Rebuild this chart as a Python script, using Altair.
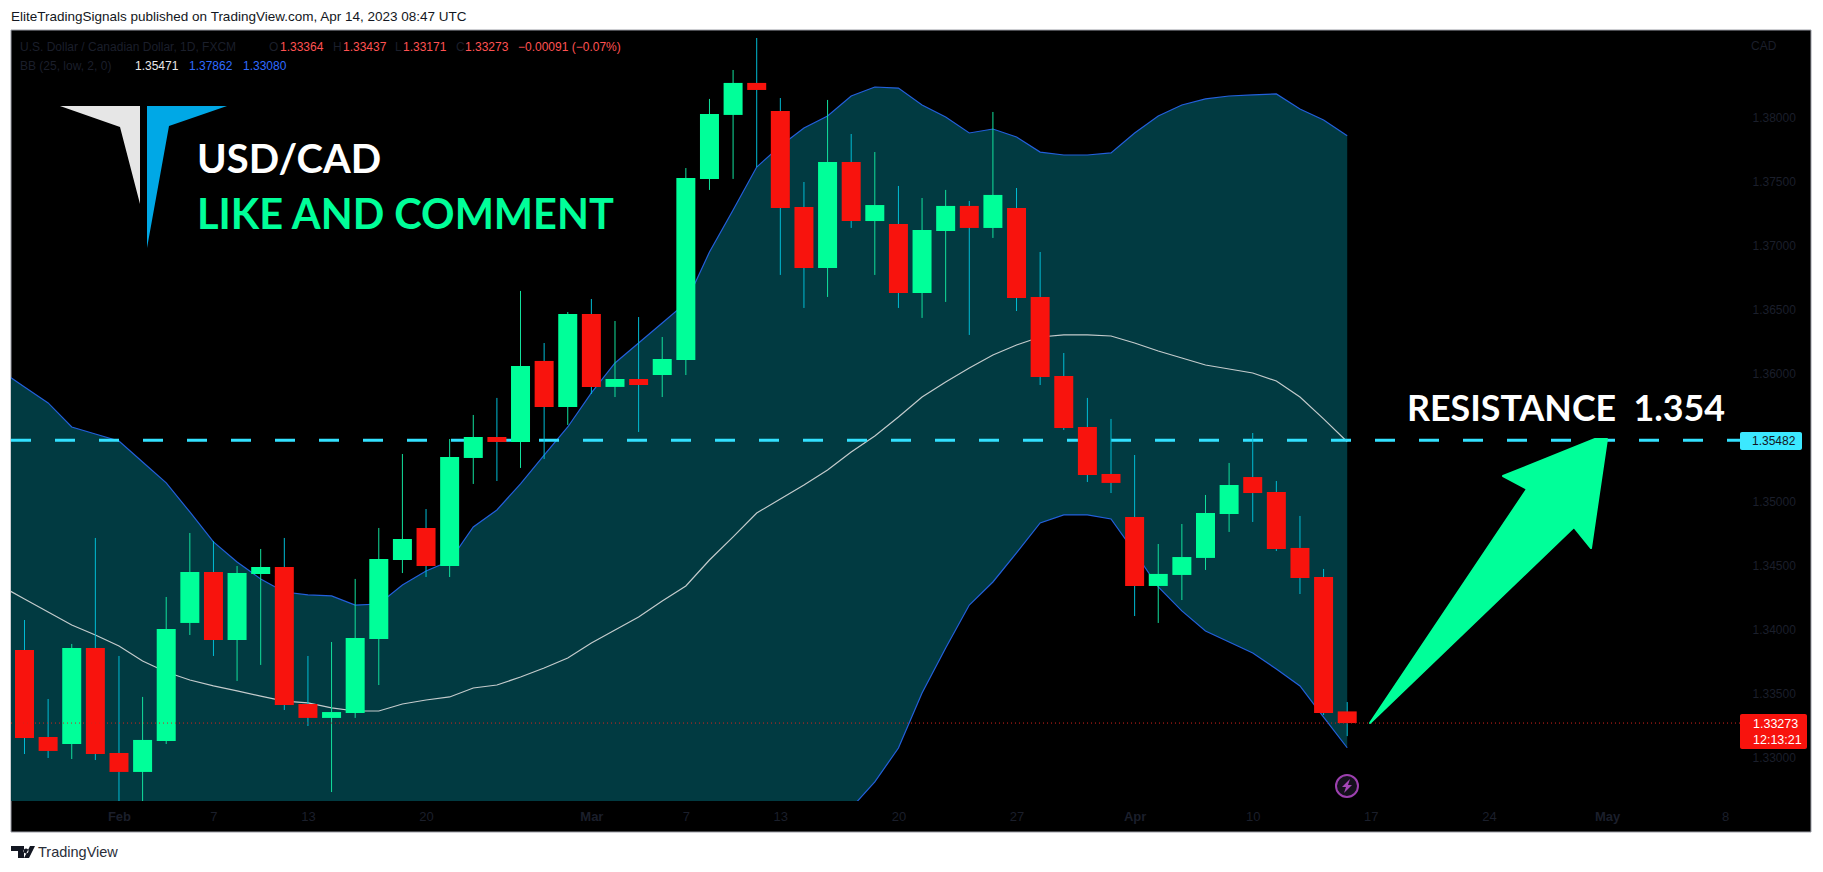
import altair as alt
import pandas as pd

# daily candles
opens = [1.33844, 1.33164, 1.33109, 1.33859, 1.33039, 1.32891, 1.33133, 1.34055, 1.34453, 1.33922,
         1.34438, 1.34492, 1.33422, 1.33313, 1.33352, 1.33930, 1.34547, 1.34797, 1.34500, 1.35344,
         1.35508, 1.35469, 1.36102, 1.35742, 1.36469, 1.35899, 1.35961, 1.35992, 1.36109, 1.37524,
         1.38024, 1.38274, 1.38055, 1.37305, 1.36828, 1.37656, 1.37195, 1.37172, 1.36633, 1.37117,
         1.37313, 1.37141, 1.37297, 1.36602, 1.35984, 1.35586, 1.35219, 1.34883, 1.34344, 1.34430,
         1.34563, 1.34906, 1.35195, 1.35078, 1.34641, 1.34414, 1.33364]
highs = [1.34078, 1.33461, 1.33891, 1.34719, 1.33797, 1.33477, 1.34258, 1.34758, 1.34695, 1.34500,
         1.34633, 1.34719, 1.33797, 1.33906, 1.34399, 1.34797, 1.35375, 1.34945, 1.35492, 1.35680,
         1.35813, 1.36649, 1.36242, 1.36484, 1.36586, 1.36414, 1.36445, 1.36289, 1.37609, 1.38149,
         1.38375, 1.38625, 1.38156, 1.37500, 1.38141, 1.37875, 1.37734, 1.37469, 1.37375, 1.37438,
         1.37352, 1.38047, 1.37453, 1.36953, 1.36164, 1.35813, 1.35649, 1.35367, 1.34672, 1.34828,
         1.35055, 1.35305, 1.35539, 1.35164, 1.34891, 1.34477, 1.33437]
lows = [1.33031, 1.33000, 1.32992, 1.32984, 1.32625, 1.32625, 1.33109, 1.33961, 1.33797, 1.33602,
        1.33727, 1.33375, 1.33250, 1.32734, 1.33313, 1.33570, 1.34445, 1.34414, 1.34414, 1.35141,
        1.35164, 1.35266, 1.35336, 1.35602, 1.35844, 1.35820, 1.35547, 1.35820, 1.35992, 1.37438,
        1.37524, 1.37617, 1.36774, 1.36516, 1.36602, 1.37141, 1.36774, 1.36516, 1.36438, 1.36563,
        1.36305, 1.37063, 1.36492, 1.35914, 1.35563, 1.35156, 1.35070, 1.34109, 1.34055, 1.34234,
        1.34469, 1.34766, 1.34844, 1.34617, 1.34281, 1.33336, 1.33171]
closes = [1.33156, 1.33055, 1.33859, 1.33031, 1.32891, 1.33141, 1.34008, 1.34453, 1.33922, 1.34445,
          1.34492, 1.33414, 1.33313, 1.33359, 1.33938, 1.34555, 1.34711, 1.34500, 1.35352, 1.35508,
          1.35469, 1.36063, 1.35742, 1.36469, 1.35899, 1.35961, 1.35914, 1.36117, 1.37531, 1.38031,
          1.38274, 1.38219, 1.37297, 1.36828, 1.37656, 1.37195, 1.37320, 1.36633, 1.37125, 1.37313,
          1.37141, 1.37399, 1.36594, 1.35977, 1.35578, 1.35211, 1.35149, 1.34344, 1.34438, 1.34570,
          1.34914, 1.35133, 1.35070, 1.34633, 1.34406, 1.33352, 1.33273]

# Bollinger bands, first value is the session before the first candle
bb_upper = [1.36024, 1.35899, 1.35774, 1.35586, 1.35531, 1.35477, 1.35313, 1.35149, 1.34922, 1.34688,
            1.34531, 1.34399, 1.34297, 1.34274, 1.34266, 1.34195, 1.34203, 1.34352, 1.34461, 1.34539,
            1.34805, 1.34938, 1.35141, 1.35367, 1.35586, 1.35852, 1.36086, 1.36242, 1.36399, 1.36555,
            1.36953, 1.37281, 1.37617, 1.37781, 1.37922, 1.38016, 1.38172, 1.38242, 1.38234, 1.38102,
            1.38008, 1.37883, 1.37914, 1.37852, 1.37734, 1.37711, 1.37711, 1.37727, 1.37883, 1.38016,
            1.38102, 1.38149, 1.38172, 1.38180, 1.38188, 1.38070, 1.37984, 1.37862]
bb_mid = [1.34344, 1.34242, 1.34141, 1.34039, 1.33961, 1.33875, 1.33758, 1.33672, 1.33609, 1.33563,
          1.33524, 1.33484, 1.33445, 1.33430, 1.33391, 1.33367, 1.33367, 1.33422, 1.33453, 1.33477,
          1.33547, 1.33570, 1.33633, 1.33703, 1.33781, 1.33899, 1.34000, 1.34102, 1.34227, 1.34344,
          1.34547, 1.34727, 1.34914, 1.35024, 1.35133, 1.35250, 1.35391, 1.35516, 1.35664, 1.35820,
          1.35938, 1.36047, 1.36149, 1.36227, 1.36289, 1.36305, 1.36305, 1.36297, 1.36242, 1.36180,
          1.36125, 1.36070, 1.36039, 1.36008, 1.35945, 1.35820, 1.35649, 1.35471]
bb_lower = [1.32664, 1.32586, 1.32508, 1.32492, 1.32391, 1.32274, 1.32203, 1.32195, 1.32297, 1.32438,
            1.32516, 1.32570, 1.32594, 1.32586, 1.32516, 1.32539, 1.32531, 1.32492, 1.32445, 1.32414,
            1.32289, 1.32203, 1.32125, 1.32039, 1.31977, 1.31945, 1.31914, 1.31961, 1.32055, 1.32133,
            1.32141, 1.32172, 1.32211, 1.32266, 1.32344, 1.32484, 1.32609, 1.32813, 1.33078, 1.33508,
            1.33859, 1.34195, 1.34375, 1.34602, 1.34836, 1.34899, 1.34899, 1.34867, 1.34609, 1.34336,
            1.34149, 1.33992, 1.33906, 1.33820, 1.33695, 1.33563, 1.33320, 1.33080]

resistance = 1.35482
last_close = 1.33273

price_ticks = [1.33, 1.335, 1.34, 1.345, 1.35, 1.36, 1.365, 1.37, 1.375, 1.38]
date_ticks = {4: "Feb", 8: "7", 12: "13", 17: "20", 24: "Mar", 28: "7", 32: "13", 37: "20",
              42: "27", 47: "Apr", 52: "10", 57: "17", 62: "24", 67: "May", 72: "8"}
month_ticks = [4, 24, 47, 67]

UP = "#00ff99"
DOWN = "#f8130d"
UP_WICK = "#12e09c"
DOWN_WICK = "#00bcd4"
BAND = "#013a41"
BAND_LINE = "#2360dc"
DIM = "#1b1f2b"
CYAN = "#33e1ff"
FONT = "Liberation Sans"
BIG = "Lato"

candles = pd.DataFrame({"i": range(len(opens)), "o": opens, "h": highs, "l": lows, "c": closes})
candles["up"] = candles["c"] >= candles["o"]
bands = pd.DataFrame({"i": range(-1, 57), "upper": bb_upper, "mid": bb_mid, "lower": bb_lower})
levels = pd.DataFrame({"res": [resistance], "last": [last_close]})

x_scale = alt.Scale(domain=[-0.5715, 72.63], nice=False, zero=False, padding=0)
y_scale = alt.Scale(domain=[1.32664, 1.386875], nice=False, zero=False, padding=0)

# same axis objects on every layer so vega-lite merges them into one
x_axis = alt.Axis(
    values=list(date_ticks), title=None, grid=False, domain=False, ticks=False, zindex=1,
    labelExpr="{" + ",".join(f"'{k}':'{v}'" for k, v in date_ticks.items()) + "}[datum.value]",
    labelColor=DIM, labelFont=FONT, labelFontSize=13, labelPadding=9, labelOverlap=False,
    labelFontWeight={"condition": {"test": f"indexof({month_ticks}, datum.value) >= 0", "value": "bold"},
                     "value": "normal"},
)
y_axis = alt.Axis(
    orient="right", values=price_ticks, format=".5f", title=None, grid=False, domain=False,
    ticks=False, zindex=1, labelColor=DIM, labelFont=FONT, labelFontSize=12, labelPadding=12,
    labelOverlap=False,
)
x_idx = alt.X("i:Q", scale=x_scale, axis=x_axis)


def y_price(field):
    return alt.Y(f"{field}:Q", scale=y_scale, axis=y_axis)


# everything below is placed in page pixels, the plot starts at 11,30
def label(txt, x, y, size=12, color=DIM, weight="normal", font=FONT, align="left"):
    return alt.Chart(levels).mark_text(
        text=txt, fontSize=size, color=color, fontWeight=weight, font=font,
        align=align, baseline="middle"
    ).encode(x=alt.value(x - 11), y=alt.value(y - 30))


def shape(path, x, y, color, stroke=0):
    return alt.Chart(levels).mark_point(
        shape=path, size=4, filled=True, color=color, opacity=1,
        stroke=color, strokeWidth=stroke, strokeJoin="round"
    ).encode(x=alt.value(x - 11), y=alt.value(y - 30))


def box(x, x2, y, y2, color, **kw):
    return alt.Chart(levels).mark_rect(color=color, **kw).encode(
        x=alt.value(x - 11), x2=alt.value(x2 - 11), y=alt.value(y - 30), y2=alt.value(y2 - 30)
    )


panel = box(11, 1811, 30, 832, "black", stroke="#9a9ca5", strokeWidth=1)

area = alt.Chart(bands).mark_area(color=BAND, opacity=1, clip=True).encode(
    x=x_idx, y=y_price("upper"), y2="lower:Q"
)
upper = alt.Chart(bands).mark_line(color=BAND_LINE, strokeWidth=1.2, clip=True).encode(x=x_idx, y=y_price("upper"))
lower = alt.Chart(bands).mark_line(color=BAND_LINE, strokeWidth=1.2, clip=True).encode(x=x_idx, y=y_price("lower"))
mid = alt.Chart(bands).mark_line(color="#c4cbcc", strokeWidth=1.2, clip=True).encode(x=x_idx, y=y_price("mid"))

res_line = alt.Chart(levels).mark_rule(color=CYAN, strokeWidth=3, strokeDash=[20, 24]).encode(
    y=y_price("res"), x=alt.value(0), x2=alt.value(1729)
)

wicks = alt.Chart(candles).mark_rule(strokeWidth=1, clip=True).encode(
    x=x_idx, y=y_price("h"), y2="l:Q",
    color=alt.condition("datum.up", alt.value(UP_WICK), alt.value(DOWN_WICK)),
)
bodies = alt.Chart(candles).mark_bar(size=19, clip=True).encode(
    x=x_idx, y=y_price("o"), y2="c:Q",
    color=alt.condition("datum.up", alt.value(UP), alt.value(DOWN)),
)

last_line = alt.Chart(levels).mark_rule(color="#d8241c", strokeWidth=1, strokeDash=[1, 3]).encode(
    y=y_price("last"), x=alt.value(0), x2=alt.value(1729)
)

arrow = shape("M0,0 L157,-234 L133,-247 L225,-284 L237,-284 L221,-175 L204,-196 Z", 1370, 723, UP, stroke=2)
logo_white = shape("M0,0 L80,0 L80,98 L60,21 Z", 60, 106, "#e6e6e6")
logo_blue = shape("M0,0 L80,0 L22,20 L0,142 Z", 147, 106, "#00a8e6")

bolt_ring = alt.Chart(levels).mark_point(
    shape="circle", size=484, fill="#14101c", fillOpacity=1, stroke="#9c40ae", strokeWidth=2, opacity=1
).encode(x=alt.value(1347 - 11), y=alt.value(786 - 30))
bolt = shape("M3,-7 L-5,1 L-1,1 L-3,7 L5,-1 L1,-1 Z", 1347, 786, "#a546b8")

tv_mark = shape("M0,0 H13 V12 H7 V5 H0 Z M19,0 H24 L18,12 H13 Z M15,2.5 a2.5,2.5 0 1,0 0.01,0 Z", 11, 846, "#131722")

texts = [
    label("EliteTradingSignals published on TradingView.com, Apr 14, 2023 08:47 UTC", 11, 17, size=13.5, color="#131722"),
    label("TradingView", 38, 853, size=14.5, color="#2a2e39"),
    label("U.S. Dollar / Canadian Dollar, 1D, FXCM", 20, 47),
    label("O", 269, 47), label("1.33364", 280, 47, color="#ff5252"),
    label("H", 333, 47), label("1.33437", 343, 47, color="#ff5252"),
    label("L", 395, 47), label("1.33171", 403, 47, color="#ff5252"),
    label("C", 456, 47), label("1.33273", 465, 47, color="#ff5252"),
    label("\u22120.00091 (\u22120.07%)", 518, 47, color="#ff5252"),
    label("BB (25, low, 2, 0)", 20, 66),
    label("1.35471", 135, 66, color="#e8e8e8"),
    label("1.37862", 189, 66, color="#2f6bff"),
    label("1.33080", 243, 66, color="#2f6bff"),
    label("CAD", 1751, 46),
    label("USD/CAD", 197, 161, size=40, color="white", weight="bold", font=BIG),
    label("LIKE AND COMMENT", 197, 217, size=41.5, color=UP, weight="bold", font=BIG),
    label("RESISTANCE\u00a0\u00a01.354", 1407, 410, size=35.8, color="white", weight="bold", font=BIG),
]

res_tag = box(1740, 1802, 432, 450, "#3ce8ff", cornerRadius=2)
res_text = label("1.35482", 1752, 441, color="#131722")
last_tag = box(1740, 1807, 714, 749, DOWN, cornerRadius=2)
last_text = [label("1.33273", 1753, 724, size=12.5, color="white"),
             label("12:13:21", 1753, 740, size=12.5, color="white")]

chart = alt.layer(
    panel, area, upper, lower, mid, res_line, wicks, bodies, last_line,
    bolt_ring, bolt, arrow, logo_white, logo_blue, tv_mark,
    res_tag, res_text, last_tag, *last_text, *texts
).properties(
    width=1729, height=771,
    padding={"left": 3, "top": 22, "right": 75, "bottom": 60},
    autosize=alt.AutoSizeParams(type="none"),
    background="white",
).configure_view(strokeWidth=0)

chart.save("out.html", embed_options={"renderer": "svg", "actions": False})
